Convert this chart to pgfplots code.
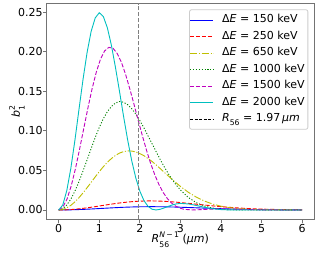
\documentclass[border=0pt]{standalone}
\usepackage{fontspec}
\setmainfont{DejaVu Sans}
\usepackage{pgfplots}
\usepackage{pgfplotstable}
\pgfplotsset{compat=1.18}
\definecolor{mplyellow}{rgb}{0.75,0.75,0}
\definecolor{mplgreen}{rgb}{0,0.5,0}
\definecolor{mplmag}{rgb}{0.75,0,0.75}
\definecolor{mplcyan}{rgb}{0,0.75,0.75}
\newcommand{\fs}{\fontsize{11bp}{13bp}\selectfont}
\newcommand{\fss}{\fontsize{7.7bp}{9bp}\selectfont}
\pgfplotstableread{
R   Rm    b150    b250    b650    b1000   b1500   b2000
0   0     0       0       0       0       0       0
0.1 0.103 0.00002 0.00006 0.0007  0.0016  0.0036  0.0063
0.2 0.206 0.00009 0.00024 0.0027  0.0063  0.0140  0.0247
0.3 0.309 0.00019 0.00054 0.0059  0.0138  0.0306  0.0530
0.4 0.412 0.00034 0.00095 0.0102  0.0239  0.0521  0.0884
0.5 0.515 0.00052 0.00145 0.0156  0.0360  0.0770  0.1274
0.6 0.618 0.00073 0.00205 0.0216  0.0494  0.1033  0.1654
0.7 0.721 0.00097 0.00272 0.0282  0.0635  0.1293  0.1994
0.8 0.824 0.00123 0.00344 0.0350  0.0778  0.1536  0.2260
0.9 0.927 0.00151 0.00422 0.0418  0.0917  0.1744  0.2429
1.0 1.030 0.00179 0.00501 0.0485  0.1045  0.1908  0.2495
1.1 1.133 0.00208 0.00582 0.0547  0.1155  0.2012  0.2447
1.2 1.236 0.00237 0.00662 0.0603  0.1244  0.2057  0.2303
1.3 1.339 0.00265 0.00740 0.0651  0.1310  0.2045  0.2080
1.4 1.442 0.00292 0.00814 0.0690  0.1353  0.1979  0.1800
1.5 1.545 0.00317 0.00883 0.0720  0.1372  0.1869  0.1495
1.6 1.648 0.00340 0.00945 0.0738  0.1363  0.1715  0.1180
1.7 1.751 0.00360 0.01000 0.0747  0.1331  0.1534  0.0884
1.8 1.854 0.00378 0.01047 0.0745  0.1280  0.1340  0.0622
1.9 1.957 0.00392 0.01085 0.0734  0.1213  0.1139  0.0405
2.0 2.060 0.00403 0.01113 0.0713  0.1131  0.0943  0.0238
2.1 2.163 0.00410 0.01133 0.0687  0.1039  0.0757  0.0120
2.2 2.266 0.00415 0.01142 0.0651  0.0939  0.0589  0.00465
2.3 2.369 0.00416 0.01143 0.0614  0.0840  0.0444  0.00096
2.4 2.472 0.00413 0.01135 0.0570  0.0738  0.0320  0.0000
2.5 2.575 0.00408 0.01118 0.0525  0.0640  0.0221  0.00084
2.6 2.678 0.00400 0.01094 0.0477  0.0547  0.01445 0.00259
2.7 2.781 0.00390 0.01062 0.0431  0.0460  0.00879 0.00459
2.8 2.884 0.00377 0.01026 0.0385  0.0383  0.00486 0.00637
2.9 2.987 0.00363 0.00985 0.0341  0.0313  0.00232 0.00765
3.0 3.090 0.00347 0.00938 0.0298  0.0253  0.00085 0.00832
3.2 3.296 0.00311 0.00837 0.0222  0.01558 0.0000  0.00763
3.4 3.502 0.00272 0.00728 0.0160  0.0090  0.00043 0.00560
3.6 3.708 0.00233 0.00620 0.0111  0.0048  0.00103 0.00328
3.8 3.914 0.00195 0.00517 0.00742 0.00233 0.00134 0.00149
4.0 4.120 0.00160 0.00421 0.00479 0.00101 0.00131 0.00049
4.2 4.326 0.00129 0.00336 0.00298 0.00037 0.00105 0.00008
4.4 4.532 0.00102 0.00263 0.00178 0.00010 0.00072 0.0000
4.6 4.738 0.00079 0.00202 0.00103 0.00001 0.00043 0.00004
4.8 4.944 0.00060 0.00152 0.00057 0       0.00023 0
5.0 5.150 0.00044 0.00112 0.00030 0       0.00010 0
5.2 5.356 0.00032 0.00081 0.00016 0       0.00004 0
5.4 5.562 0.00023 0.00057 0.00008 0       0.00001 0
5.6 5.768 0.00016 0.00040 0.00004 0       0       0
5.8 5.974 0.00011 0.00027 0.00002 0       0       0
6.0 6.000 0.00008 0.00018 0.00001 0       0       0
}\data
\begin{document}
\begin{tikzpicture}
\useasboundingbox (-46.3bp,-33.7bp) rectangle (270.7bp,219.3bp);
\begin{axis}[
  at={(0,0)}, anchor=south west,
  scale only axis, width=268bp, height=216bp,
  xmin=-0.306, xmax=6.30, ymin=-0.0118, ymax=0.2614,
  xtick={0,1,2,3,4,5,6},
  ytick={0,0.05,0.10,0.15,0.20,0.25},
  /pgf/number format/assume math mode=true,
  yticklabel={\pgfmathprintnumber[fixed,fixed zerofill,precision=2]{\tick}},
  tick label style={font=\fs},
  tick align=outside, tick pos=left, major tick length=3.5bp,
  axis line style={black!55, line width=0.9bp},
  tick style={black!55, line width=0.9bp},
  xticklabel style={inner sep=0pt, anchor=north, yshift=-1.5bp},
  yticklabel style={inner sep=0pt, anchor=east},
  xlabel={\textit{R}\rlap{\raisebox{-0.45em}{\fss 56}}\raisebox{0.42em}{\fss\textit{N}\,−\,1} (\textit{μm})},
  ylabel={\textit{b}\rlap{\raisebox{-0.45em}{\fss 1}}\raisebox{0.45em}{\fss 2}},
  xlabel style={at={(axis description cs:0.5,-0.1065)}, anchor=base, font=\fs},
  ylabel style={at={(axis description cs:-0.0989,0.5)}, anchor=base, font=\fs},
  legend style={
    at={(0.9776,0.972)}, anchor=north east,
    draw=black!20, line width=0.8bp, rounded corners=2bp,
    fill=white, fill opacity=0.8, text opacity=1,
    font=\fs, inner xsep=0pt, inner ysep=2bp, row sep=0pt,
    nodes={inner xsep=3.3bp, inner ysep=3bp, text height=8bp, text depth=2.5bp},
  },
  legend cell align=left,
  legend image code/.code={\draw[#1] (0bp,0bp) -- (23.4bp,0bp); \path (28.4bp,0bp);},
]
\addplot[blue, line width=0.9bp] table[x=R, y=b150] {\data};
\addlegendentry{Δ\textit{E} = 150 keV}
\addplot[red, line width=0.9bp, dash pattern=on 4.1bp off 1.8bp] table[x=R, y=b250] {\data};
\addlegendentry{Δ\textit{E} = 250 keV}
\addplot[mplyellow, line width=0.9bp, dash pattern=on 7bp off 1.8bp on 1.1bp off 1.8bp] table[x=R, y=b650] {\data};
\addlegendentry{Δ\textit{E} = 650 keV}
\addplot[mplgreen, line width=0.9bp, dash pattern=on 1.1bp off 1.8bp] table[x=R, y=b1000] {\data};
\addlegendentry{Δ\textit{E} = 1000 keV}
\addplot[mplmag, line width=0.9bp, dash pattern=on 4.1bp off 1.8bp] table[x=Rm, y=b1500] {\data};
\addlegendentry{Δ\textit{E} = 1500 keV}
\addplot[mplcyan, line width=0.9bp] table[x=R, y=b2000] {\data};
\addlegendentry{Δ\textit{E} = 2000 keV}
\addplot[black!50, line width=1.6bp, dash pattern=on 4bp off 1.8bp, forget plot] coordinates {(1.97,-0.0118) (1.97,0.2614)};
\addlegendimage{black, line width=0.8bp, dash pattern=on 3bp off 1.5bp}
\addlegendentry{\textit{R}\raisebox{-0.3em}{\fss 56} = 1.97\,\textit{μm}}
\end{axis}
\end{tikzpicture}
\end{document}
